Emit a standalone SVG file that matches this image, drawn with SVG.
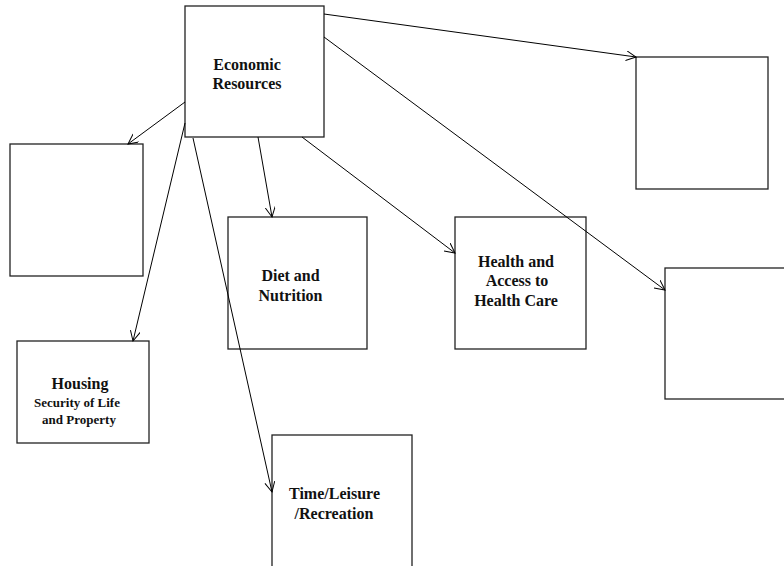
<svg xmlns="http://www.w3.org/2000/svg" width="784" height="566" viewBox="0 0 784 566">
<style>
.box{fill:#fff;stroke:#222;stroke-width:1.3}
.lbl{font-family:"Liberation Serif","Times New Roman",serif;font-weight:bold;font-size:16px;fill:#111;text-anchor:middle}
.sm{font-size:13px}
.conn line{stroke:#000;stroke-width:1;fill:none;marker-end:url(#arr)}
</style>
<defs>
<marker id="arr" markerWidth="12" markerHeight="12" refX="10" refY="5" orient="auto" markerUnits="userSpaceOnUse">
<path d="M0,0 L10,5 L0,10" fill="none" stroke="#000" stroke-width="1"/>
</marker>
</defs>
<rect width="784" height="566" fill="#fff"/>
<g id="economic"><rect class="box" x="185" y="6" width="139" height="131"/>
<text class="lbl" x="247" y="70">Economic</text><text class="lbl" x="247" y="89">Resources</text></g>
<g id="empty1"><rect class="box" x="10" y="144" width="133" height="132"/></g>
<g id="housing"><rect class="box" x="17" y="341" width="132" height="102"/>
<text class="lbl" x="80" y="389">Housing</text><text class="lbl sm" x="77" y="407">Security of Life</text><text class="lbl sm" x="79" y="424">and Property</text></g>
<g id="diet"><rect class="box" x="228" y="217" width="139" height="132"/>
<text class="lbl" x="290.5" y="281">Diet and</text><text class="lbl" x="290.5" y="301">Nutrition</text></g>
<g id="health"><rect class="box" x="455" y="217" width="131" height="132"/>
<text class="lbl" x="516" y="267">Health and</text><text class="lbl" x="517" y="286">Access to</text><text class="lbl" x="516" y="306">Health Care</text></g>
<g id="time"><rect class="box" x="272" y="435" width="140" height="140"/>
<text class="lbl" x="334.5" y="499">Time/Leisure</text><text class="lbl" x="334" y="519">/Recreation</text></g>
<g id="empty2"><rect class="box" x="636" y="57" width="132" height="132"/></g>
<g id="empty3"><rect class="box" x="665" y="268" width="130" height="131"/></g>
<g class="conn">
<line x1="185" y1="102" x2="128" y2="144"/>
<line x1="185" y1="123" x2="133" y2="341"/>
<line x1="193" y1="138" x2="272" y2="492"/>
<line x1="258" y1="137" x2="272" y2="217"/>
<line x1="302" y1="137" x2="455" y2="253"/>
<line x1="324" y1="14" x2="636" y2="57"/>
<line x1="324" y1="37" x2="665" y2="290"/>
</g>
</svg>
